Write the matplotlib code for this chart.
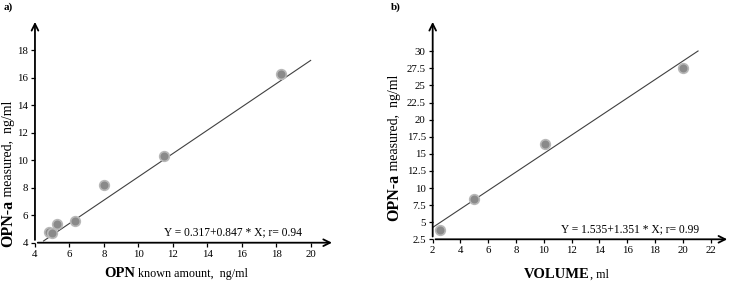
import matplotlib
matplotlib.use("Agg")
import matplotlib.pyplot as plt

plt.rcParams['font.family'] = ['Liberation Serif', 'DejaVu Serif']

# panel a: OPN known amount vs OPN-a measured
a_x = [4.8, 5.0, 5.3, 6.3, 8.0, 11.5, 18.3]
a_y = [4.8, 4.7, 5.35, 5.55, 8.2, 10.3, 16.3]
a_fit = (0.317, 0.847)
a_fit_range = (4.5, 20.0)
a_xticks = [4, 6, 8, 10, 12, 14, 16, 18, 20]
a_yticks = [4, 6, 8, 10, 12, 14, 16, 18]

# panel b: volume vs OPN-a measured
b_x = [2.5, 5.0, 10.05, 20.0]
b_y = [3.9, 8.4, 16.4, 27.6]
b_fit = (1.535, 1.351)
b_fit_range = (2.0, 21.1)
b_xticks = [2, 4, 6, 8, 10, 12, 14, 16, 18, 20, 22]
b_yticks = [2.5, 5, 7.5, 10, 12.5, 15, 17.5, 20, 22.5, 25, 27.5, 30]

fig = plt.figure(figsize=(7.33, 2.83), dpi=100)
ax_a = fig.add_axes([0.0477, 0.1424, 0.409, 0.790])
ax_b = fig.add_axes([0.5903, 0.1544, 0.4056, 0.778])


def style(ax, xticks, yticks, xlim, ylim):
    ax.set_xlim(*xlim)
    ax.set_ylim(*ylim)
    ax.set_xticks(xticks)
    ax.set_yticks(yticks)
    ax.set_yticklabels([('%g' % v) for v in yticks])
    for s in ax.spines.values():
        s.set_visible(False)
    ax.tick_params(direction='out', length=3, width=0.9, labelsize=7.8, pad=2, color='black')
    arrow = dict(arrowstyle='->', color='black', lw=1.3, mutation_scale=12)
    ax.annotate('', xy=(1, 0), xytext=(0, 0), xycoords='axes fraction',
                arrowprops=arrow, annotation_clip=False)
    ax.annotate('', xy=(0, 1), xytext=(0, 0), xycoords='axes fraction',
                arrowprops=arrow, annotation_clip=False)


def scatter_fit(ax, x, y, fit, rng):
    b0, b1 = fit
    ax.plot(list(rng), [b0 + b1 * v for v in rng], color='#404040', lw=0.8, zorder=2)
    ax.scatter(x, y, s=48, color='#8a8a8a', edgecolor='#b8b8b8', linewidth=1.2,
               zorder=3, clip_on=False)


style(ax_a, a_xticks, a_yticks, (4, 21.4), (4, 20.26))
style(ax_b, b_xticks, b_yticks, (2, 23.4), (2.5, 34.7))
scatter_fit(ax_a, a_x, a_y, a_fit, a_fit_range)
scatter_fit(ax_b, b_x, b_y, b_fit, b_fit_range)

fig.text(164 / 733, 1 - 235 / 283, 'Y = 0.317+0.847 * X; r= 0.94', fontsize=8.3, va='baseline')
fig.text(561 / 733, 1 - 232 / 283, 'Y = 1.535+1.351 * X; r= 0.99', fontsize=8.3, va='baseline')

fig.text(4 / 733, 1 - 10 / 283, 'a)', fontsize=8, weight='bold', va='baseline')
fig.text(391 / 733, 1 - 10 / 283, 'b)', fontsize=8, weight='bold', va='baseline')

W, H = 733, 283
fig.canvas.draw()
renderer = fig.canvas.get_renderer()


def xlabel(x0, y0, bold, rest):
    t = fig.text(x0 / W, 1 - y0 / H, bold, fontsize=10.5, weight='bold', va='baseline')
    bb = t.get_window_extent(renderer)
    fig.text(bb.x1 / W, 1 - y0 / H, rest, fontsize=8.7, va='baseline')


def ylabel(x0, y0, bold, rest):
    t = fig.text(x0 / W, 1 - y0 / H, bold, fontsize=11.5, weight='bold', rotation=90,
                 rotation_mode='anchor', ha='left', va='baseline')
    bb = t.get_window_extent(renderer)
    fig.text(x0 / W, bb.y1 / H, rest, fontsize=10, rotation=90,
             rotation_mode='anchor', ha='left', va='baseline')


xlabel(104, 277, 'OPN', ' known amount,  ng/ml')
xlabel(524, 278, 'VOLUME', ', ml')
ylabel(12, 247, 'OPN-a', ' measured,  ng/ml')
ylabel(398, 221, 'OPN-a', ' measured,  ng/ml')

fig.savefig('out.png', dpi=100)
